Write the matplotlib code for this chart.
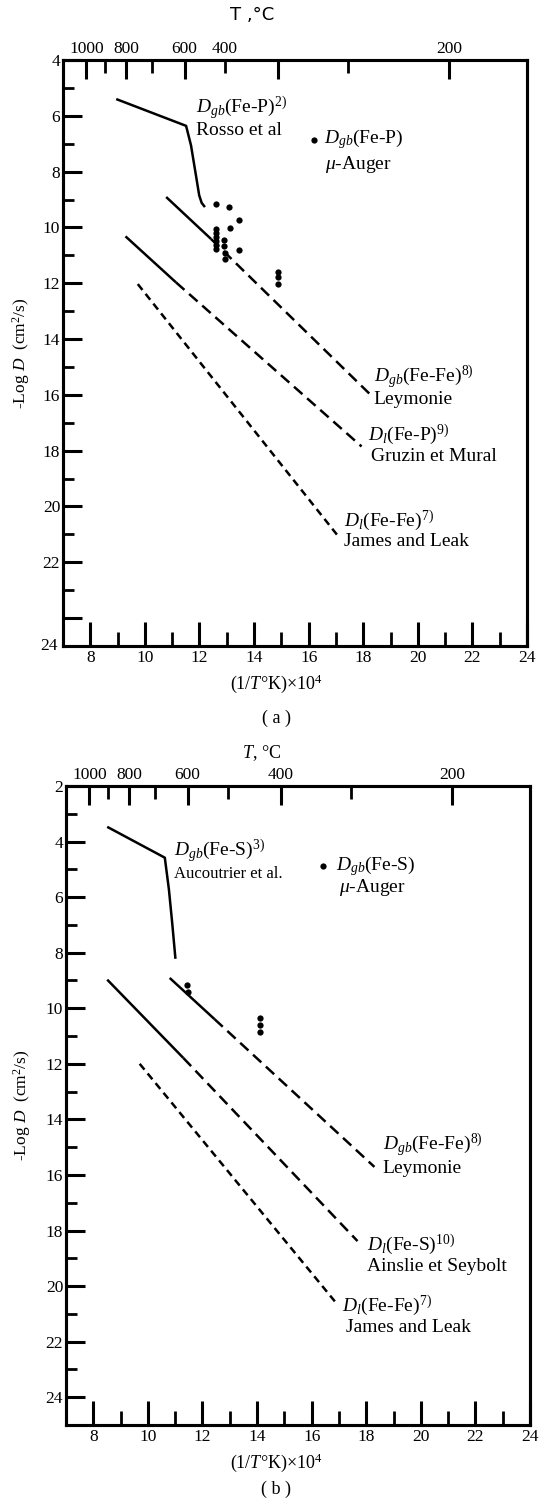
import matplotlib
matplotlib.use('Agg')
from matplotlib import pyplot as plt
from matplotlib import transforms

plt.rcParams['font.family'] = ['Liberation Serif', 'DejaVu Serif']
plt.rcParams['mathtext.fontset'] = 'custom'
plt.rcParams['mathtext.rm'] = 'Liberation Serif'
plt.rcParams['mathtext.it'] = 'Liberation Serif:italic'
plt.rcParams['mathtext.bf'] = 'Liberation Serif:bold'

# top axis, temperature in degC
temp_major = [1000, 800, 600, 400, 200]
temp_minor = [900, 700, 500, 300]
temp_labels = ['1000', '800', '600', '400', '200']
# where the printed labels sit (in (a) the "400" is printed over the 500 tick)
temp_label_pos_a = [1000, 800, 600, 500, 200]
temp_label_pos_b = [1000, 800, 600, 400, 200]

# ---- (a) Fe-P ----
rosso_x = [8.95, 11.51, 11.69, 11.87, 11.99, 12.08, 12.2]
rosso_y = [5.40, 6.36, 7.06, 8.13, 8.85, 9.12, 9.27]

leym_a_solid_x = [10.78, 12.42]
leym_a_solid_y = [8.91, 10.41]
leym_a_dash_x = [12.42, 18.25]
leym_a_dash_y = [10.41, 15.98]

gruzin_solid_x = [9.29, 11.14]
gruzin_solid_y = [10.32, 11.97]
gruzin_dash_x = [11.14, 17.94]
gruzin_dash_y = [11.97, 17.85]

james_a_x = [9.74, 17.11]
james_a_y = [12.03, 21.1]

auger_a_x = [12.6, 13.09, 13.43, 13.12, 12.6, 12.6, 12.6, 12.6, 12.6, 12.6,
             12.91, 12.91, 12.92, 12.94, 13.43, 14.86, 14.86, 14.86]
auger_a_y = [9.15, 9.27, 9.73, 10.02, 10.05, 10.2, 10.35, 10.5, 10.62, 10.77,
             10.44, 10.65, 10.92, 11.13, 10.81, 11.58, 11.79, 12.03]

# ---- (b) Fe-S ----
aucou_x = [8.51, 10.62, 10.77, 10.89, 11.01]
aucou_y = [3.47, 4.58, 5.72, 6.92, 8.22]

leym_b_solid_x = [10.8, 12.44]
leym_b_solid_y = [8.91, 10.39]
leym_b_dash_x = [12.44, 18.3]
leym_b_dash_y = [10.39, 15.71]

ainslie_solid_x = [8.51, 11.3]
ainslie_solid_y = [8.97, 11.79]
ainslie_dash_x = [11.3, 17.68]
ainslie_dash_y = [11.79, 18.38]

james_b_x = [9.7, 16.85]
james_b_y = [12.0, 20.55]

auger_b_x = [11.45, 11.47, 14.11, 14.11, 14.11]
auger_b_y = [9.18, 9.42, 10.35, 10.6, 10.87]

W, H = 552, 1505
fig = plt.figure(figsize=(W / 100, H / 100), dpi=100)


def px_axes(l, t, r, b):
    return fig.add_axes([l / W, 1 - b / H, (r - l) / W, (b - t) / H])


def inv_t(temps):
    return [1e4 / (t + 273) for t in temps]


# frame, ticks and top temperature scale
def setup(ax, y_top, y_major, y_labels, label_pos, ylab_x):
    ax.set_xlim(7, 24)
    ax.set_ylim(25, y_top)
    ax.set_xticks(range(8, 25, 2))
    ax.set_xticklabels([str(v) for v in range(8, 25, 2)])
    ax.set_xticks(range(9, 24, 2), minor=True)
    ax.set_yticks(y_major)
    ax.set_yticklabels(y_labels)
    ax.set_yticks(range(y_top + 1, 24, 2), minor=True)
    ax.tick_params(axis='x', which='major', direction='in', length=17, width=2.2,
                   labelsize=12.5, pad=3, top=False)
    ax.tick_params(axis='x', which='minor', direction='in', length=10, width=2, top=False)
    ax.tick_params(axis='y', which='major', direction='in', length=14, width=2.2,
                   labelsize=12.5, pad=2, right=False)
    ax.tick_params(axis='y', which='minor', direction='in', length=8, width=2, right=False)
    for s in ax.spines.values():
        s.set_linewidth(2.2)

    top = ax.twiny()
    top.set_xlim(7, 24)
    top.set_xticks(inv_t(temp_major))
    top.set_xticks(inv_t(temp_minor), minor=True)
    top.set_xticklabels([])
    top.tick_params(which='major', direction='in', length=14, width=2.2)
    top.tick_params(which='minor', direction='in', length=9, width=2)
    for s in top.spines.values():
        s.set_linewidth(2.2)

    tr = transforms.offset_copy(ax.get_xaxis_transform(), fig=fig, y=2, units='points')
    for t, s in zip(label_pos, temp_labels):
        ax.text(1e4 / (t + 273), 1.0, s, transform=tr, ha='center', va='bottom', fontsize=12.5)

    ax.set_ylabel(r'-Log $D$  (cm$^2$/s)', fontsize=12.5)
    ax.yaxis.set_label_coords(ylab_x, 0.5)


def solid(ax, x, y):
    ax.plot(x, y, color='black', lw=1.8, solid_capstyle='butt')


def dashed(ax, x, y, d=(4.5, 2.5)):
    ax.plot(x, y, color='black', lw=1.8, dashes=d, dash_capstyle='butt')


def dots(ax, x, y):
    ax.plot(x, y, 'o', color='black', ms=4.5, mec='none')


def label(ax, x, y, s, size=14):
    ax.text(x, y, s, fontsize=size, ha='left', va='center')


def fig_text(x, y, s, **kw):
    fig.text(x / W, 1 - y / H, s, ha='center', va='center', **kw)


xlabel = r'(1/$T$°K)$\times$10$^4$'

# ---- panel (a) ----
ax_a = px_axes(63, 60, 527, 646)
setup(ax_a, 4, list(range(4, 25, 2)), [str(v) for v in range(4, 23, 2)] + [''],
      temp_label_pos_a, -0.066)
ax_a.text(-0.012, 25, '24', transform=ax_a.get_yaxis_transform(), ha='right',
          va='center', fontsize=12.5)

solid(ax_a, rosso_x, rosso_y)
solid(ax_a, leym_a_solid_x, leym_a_solid_y)
dashed(ax_a, leym_a_dash_x, leym_a_dash_y)
solid(ax_a, gruzin_solid_x, gruzin_solid_y)
dashed(ax_a, gruzin_dash_x, gruzin_dash_y)
dashed(ax_a, james_a_x, james_a_y, d=(3, 2))
dots(ax_a, auger_a_x, auger_a_y)

label(ax_a, 11.87, 5.74, r'$D_{gb}$(Fe-P)$^{2)}$')
label(ax_a, 11.87, 6.52, 'Rosso et al')
dots(ax_a, [16.2], [6.85])
label(ax_a, 16.55, 6.85, r'$D_{gb}$(Fe-P)')
label(ax_a, 16.6, 7.75, r'$\mu$-Auger')
label(ax_a, 18.39, 15.38, r'$D_{gb}$(Fe-Fe)$^{8)}$')
label(ax_a, 18.39, 16.17, 'Leymonie')
label(ax_a, 18.17, 17.43, r'$D_l$(Fe-P)$^{9)}$')
label(ax_a, 18.3, 18.2, 'Gruzin et Mural')
label(ax_a, 17.29, 20.5, r'$D_l$(Fe-Fe)$^{7)}$')
label(ax_a, 17.29, 21.27, 'James and Leak')

fig_text(252, 15, 'T ,°C', family='DejaVu Sans', fontsize=13)
fig_text(276, 684, xlabel, fontsize=13)
fig_text(276, 718, '( a )', fontsize=13)

# ---- panel (b) ----
ax_b = px_axes(66, 786, 530, 1425)
setup(ax_b, 2, list(range(2, 25, 2)), [str(v) for v in range(2, 25, 2)],
      temp_label_pos_b, -0.071)

solid(ax_b, aucou_x, aucou_y)
solid(ax_b, leym_b_solid_x, leym_b_solid_y)
dashed(ax_b, leym_b_dash_x, leym_b_dash_y)
solid(ax_b, ainslie_solid_x, ainslie_solid_y)
dashed(ax_b, ainslie_dash_x, ainslie_dash_y)
dashed(ax_b, james_b_x, james_b_y, d=(3, 2))
dots(ax_b, auger_b_x, auger_b_y)

label(ax_b, 10.95, 4.34, r'$D_{gb}$(Fe-S)$^{3)}$')
label(ax_b, 10.95, 5.18, 'Aucoutrier et al.', size=12)
dots(ax_b, [16.41], [4.88])
label(ax_b, 16.9, 4.88, r'$D_{gb}$(Fe-S)')
label(ax_b, 17.0, 5.65, r'$\mu$-Auger')
label(ax_b, 18.6, 14.93, r'$D_{gb}$(Fe-Fe)$^{8)}$')
label(ax_b, 18.6, 15.75, 'Leymonie')
label(ax_b, 18.03, 18.5, r'$D_l$(Fe-S)$^{10)}$')
label(ax_b, 18.03, 19.28, 'Ainslie et Seybolt')
label(ax_b, 17.1, 20.72, r'$D_l$(Fe-Fe)$^{7)}$')
label(ax_b, 17.25, 21.5, 'James and Leak')

fig_text(262, 753, r'$T$, °C', fontsize=13)
fig_text(276, 1463, xlabel, fontsize=13)
fig_text(276, 1489, '( b )', fontsize=13)

fig.savefig('out.png', dpi=100)
